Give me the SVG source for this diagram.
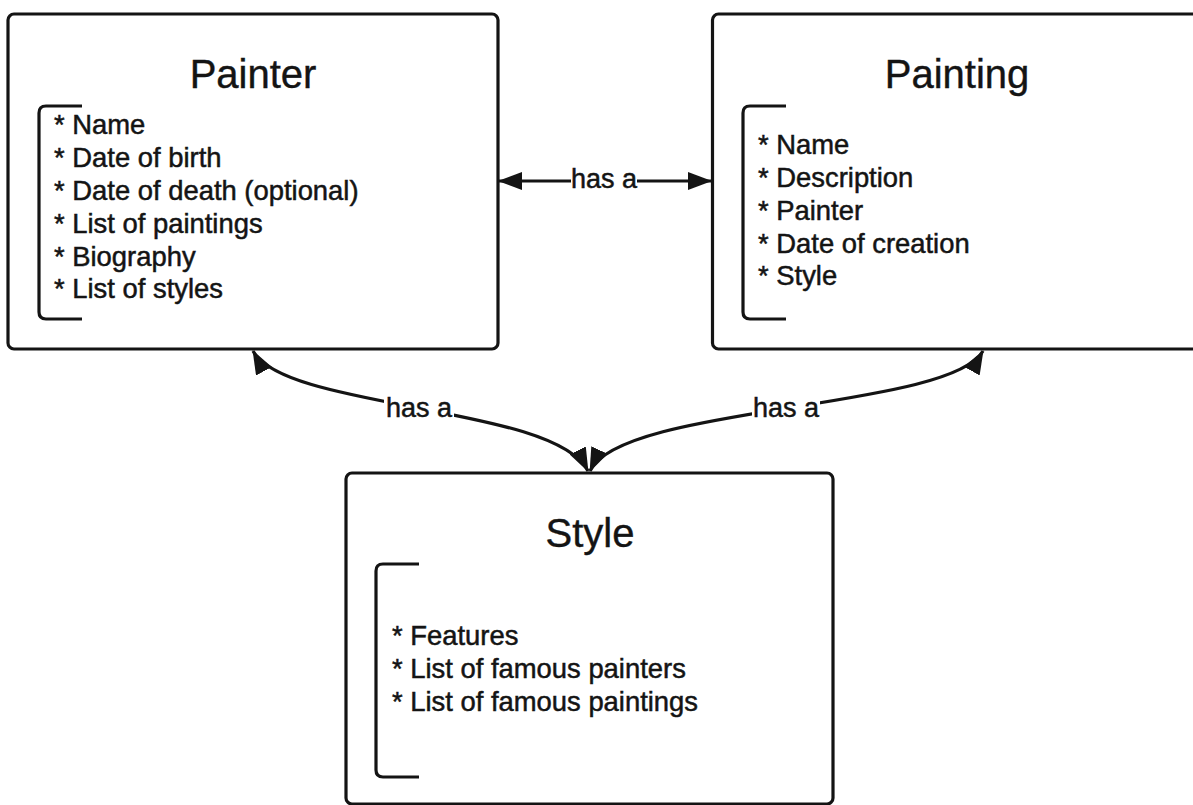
<svg xmlns="http://www.w3.org/2000/svg" width="1193" height="805" viewBox="0 0 1193 805">
  <style>
    .box { fill: #ffffff; stroke: #141414; stroke-width: 3.2; }
    .bracket { fill: none; stroke: #141414; stroke-width: 3.2; stroke-linecap: butt; }
    .title { font-family: "Liberation Sans", Arial, sans-serif; font-size: 40px; fill: #141414; stroke: #141414; stroke-width: 0.4; text-anchor: middle; }
    .item { font-family: "Liberation Sans", Arial, sans-serif; font-size: 27.4px; fill: #141414; stroke: #141414; stroke-width: 0.5; }
    .edge { fill: none; stroke: #141414; stroke-width: 3.2; }
    .label { font-family: "Liberation Sans", Arial, sans-serif; font-size: 27px; fill: #141414; stroke: #141414; stroke-width: 0.5; text-anchor: middle; }
    .label-bg { fill: #ffffff; }
  </style>
  <defs>
    <marker id="arrow" viewBox="0 0 24 18" refX="23" refY="9" markerWidth="24" markerHeight="18" markerUnits="userSpaceOnUse" orient="auto-start-reverse">
      <path d="M0,0 L24,9 L0,18 z" fill="#141414"/>
    </marker>
  </defs>

  <rect width="1193" height="805" fill="#ffffff"/>

  <!-- Painter entity -->
  <g id="painter">
    <rect class="box" x="8" y="14" width="490" height="335" rx="6"/>
    <text class="title" x="253" y="88">Painter</text>
    <path class="bracket" d="M82,106 H46 Q39,106 39,113 V312 Q39,319 46,319 H82"/>
    <text class="item" x="54" y="134">* Name</text>
    <text class="item" x="54" y="167">* Date of birth</text>
    <text class="item" x="54" y="200">* Date of death (optional)</text>
    <text class="item" x="54" y="233">* List of paintings</text>
    <text class="item" x="54" y="266">* Biography</text>
    <text class="item" x="54" y="298">* List of styles</text>
  </g>

  <!-- Painting entity -->
  <g id="painting">
    <rect class="box" x="712.5" y="14" width="500" height="335" rx="6"/>
    <text class="title" x="957" y="88">Painting</text>
    <path class="bracket" d="M786,106 H750 Q743,106 743,113 V312 Q743,319 750,319 H786"/>
    <text class="item" x="758" y="154">* Name</text>
    <text class="item" x="758" y="187">* Description</text>
    <text class="item" x="758" y="220">* Painter</text>
    <text class="item" x="758" y="253">* Date of creation</text>
    <text class="item" x="758" y="285">* Style</text>
  </g>

  <!-- Style entity -->
  <g id="style">
    <rect class="box" x="346" y="473" width="487" height="331" rx="6"/>
    <text class="title" x="590" y="547">Style</text>
    <path class="bracket" d="M419,564 H383 Q376,564 376,571 V770 Q376,777 383,777 H419"/>
    <text class="item" x="392" y="645">* Features</text>
    <text class="item" x="392" y="678">* List of famous painters</text>
    <text class="item" x="392" y="711">* List of famous paintings</text>
  </g>

  <!-- Relationships -->
  <g id="connectors">
    <path class="edge" d="M499,181 H711" marker-start="url(#arrow)" marker-end="url(#arrow)"/>
    <rect class="label-bg" x="571" y="166" width="66" height="28"/>
    <text class="label" x="604" y="188">has a</text>

    <path class="edge" d="M253,351 C285,410 555,405 588,471" marker-start="url(#arrow)" marker-end="url(#arrow)"/>
    <rect class="label-bg" x="384" y="396" width="70" height="26"/>
    <text class="label" x="419" y="417">has a</text>

    <path class="edge" d="M983,351 C950,410 620,405 590,471" marker-start="url(#arrow)" marker-end="url(#arrow)"/>
    <rect class="label-bg" x="752" y="396" width="68" height="26"/>
    <text class="label" x="786" y="417">has a</text>
  </g>
</svg>
